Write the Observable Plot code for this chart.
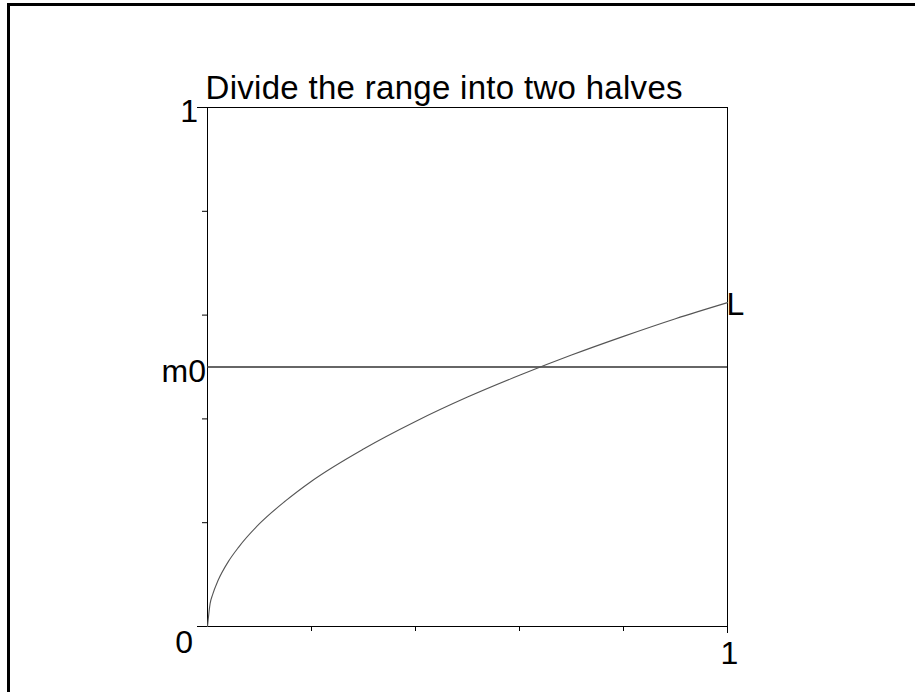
<!DOCTYPE html>
<html>
<head>
<meta charset="utf-8">
<script src="https://cdn.jsdelivr.net/npm/d3@7"></script>
<script src="https://cdn.jsdelivr.net/npm/@observablehq/plot@0.6"></script>
<style>
  html, body { margin: 0; padding: 0; background: #fff; overflow: hidden; }
  #wrap { position: relative; width: 915px; height: 692px; }
  #edge { position: absolute; left: 7px; top: 3px; width: 1000px; height: 1000px;
          border-left: 3px solid #000; border-top: 3px solid #000; pointer-events: none; z-index: 2; }
</style>
</head>
<body>
<div id="wrap"><div id="edge"></div></div>
<script>
// Curve L: sampled points (x, y)
const curveX = [0, 0.005, 0.01, 0.02, 0.04, 0.06, 0.1, 0.15, 0.2, 0.3, 0.4, 0.5, 0.6, 0.7, 0.8, 0.9, 1.0];
const curveY = [0, 0.044, 0.062, 0.088, 0.125, 0.153, 0.198, 0.242, 0.280, 0.342, 0.395, 0.442, 0.484, 0.523, 0.559, 0.593, 0.624];

// Horizontal level m0
const m0 = 0.5;

// Tick positions
const yTicksMajor = [0, 1];
const yTicksMinor = [0.2, 0.4, 0.6, 0.8];
const xTicksMinor = [0.2, 0.4, 0.6, 0.8];
const xTicksMajor = [1];

// Labels
const titleText = "Divide the range into two halves";
const yTopLabel = "1";
const m0Label = "m0";
const originLabel = "0";
const xEndLabel = "1";
const curveLabel = "L";

const font = "'Liberation Sans', Arial, Helvetica, sans-serif";
const fs = 32;

const chart = Plot.plot({
  width: 915,
  height: 692,
  marginLeft: 207,
  marginRight: 188,
  marginTop: 107,
  marginBottom: 66,
  style: { fontFamily: font, fontSize: fs + "px", background: "transparent", color: "#000" },
  x: { domain: [0, 1], axis: null },
  y: { domain: [0, 1], axis: null },
  marks: [
    Plot.frame({ stroke: "#000", strokeWidth: 1 }),
    Plot.axisY(yTicksMajor, { tickSize: 10, tickFormat: () => "", stroke: "#000" }),
    Plot.axisY(yTicksMinor, { tickSize: 5, tickFormat: () => "", stroke: "#000" }),
    Plot.axisX(xTicksMinor, { tickSize: 5, tickFormat: () => "", stroke: "#000" }),
    Plot.axisX(xTicksMajor, { tickSize: 7, tickFormat: () => "", stroke: "#000" }),
    Plot.ruleY([m0], { stroke: "#333", strokeWidth: 1.3 }),
    Plot.line(curveX, { x: curveX, y: curveY, curve: "monotone-x", stroke: "#555", strokeWidth: 1.1 }),
    // title
    Plot.text([titleText], { frameAnchor: "top-left", text: d => d, textAnchor: "start", lineAnchor: "bottom", dx: -2, dy: -9, fontSize: 33, fill: "#000" }),
    // axis labels
    Plot.text([yTopLabel], { x: 0, y: 1, text: d => d, textAnchor: "end", lineAnchor: "bottom", dx: -9.5, dy: 14, fontSize: fs, fill: "#000" }),
    Plot.text([m0Label], { x: 0, y: m0, text: d => d, textAnchor: "end", lineAnchor: "bottom", dx: -1.5, dy: 14.5, fontSize: fs, fill: "#000" }),
    Plot.text([originLabel], { x: 0, y: 0, text: d => d, textAnchor: "end", lineAnchor: "bottom", dx: -14.5, dy: 26.5, fontSize: fs, fill: "#000" }),
    Plot.text([xEndLabel], { x: 1, y: 0, text: d => d, textAnchor: "middle", lineAnchor: "bottom", dx: 2, dy: 37, fontSize: fs, fill: "#000" }),
    // curve end label
    Plot.text([curveLabel], { x: [curveX[curveX.length - 1]], y: [curveY[curveY.length - 1]], text: d => d, textAnchor: "start", lineAnchor: "bottom", dx: -1, dy: 12, fontSize: fs, fill: "#000" })
  ]
});

// slightly wider tracking for the title line
d3.select(chart).selectAll("text")
  .filter(function () { return this.textContent === titleText; })
  .attr("letter-spacing", "0.3px");

document.getElementById("wrap").appendChild(chart);
</script>
</body>
</html>
